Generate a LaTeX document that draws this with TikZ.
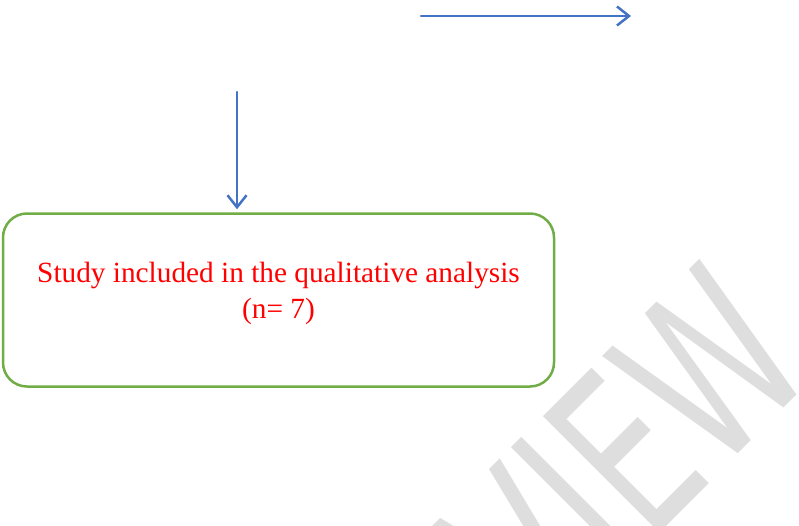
\documentclass[tikz,border=0pt]{standalone}
\usepackage{fontspec}
\setmainfont{Liberation Serif}
\newfontfamily\stampfont{DejaVu Sans}
\usepackage{tikz}
\usetikzlibrary{positioning, arrows.meta}
\definecolor{arrowblue}{RGB}{68, 114, 196}
\definecolor{boxgreen}{RGB}{112, 173, 71}
\definecolor{stampgray}{RGB}{222, 222, 222}

\begin{document}
\begin{tikzpicture}[
			x=1pt, y=-1pt,
			flowbox/.style={
				rectangle,
				rounded corners=24pt,
				minimum width=551pt,
				minimum height=173pt,
				draw=boxgreen,
				line width=2.5pt
			},
			flowtext/.style={
				text=red,
				align=center,
				inner sep=0pt,
				font=\fontsize{29.3}{36}\selectfont
			},
			flowarrow/.style={
				-{Straight Barb[length=12pt, width=19pt]},
				line width=2.5pt,
				line cap=round,
				arrowblue
			},
			stamp/.style={
				text=stampgray,
				inner sep=0pt,
				font=\stampfont\fontsize{226}{226}\selectfont
			}
			]
			
			\useasboundingbox (0,0) rectangle (799,525);
			
			\begin{scope}
				\clip (0,0) rectangle (799,525);
				\node[stamp, rotate=45, xscale=0.66, anchor=base east] (preview) at (820,372) {PREVIEW};
			\end{scope}
			
			\node[flowbox] (included) at (278.5,300) {};
			
			\node[flowtext] (includedtext) at ([yshift=7pt]included.center)
			{Study included in the qualitative analysis\\(n= 7)};
			
			\coordinate (topstart) at (421,16);
			\coordinate (topend) at (631,16);
			\coordinate (downstart) at (237,92);
			
			\draw[flowarrow] (topstart) -- (topend);
			
			\draw[flowarrow, shorten >=3pt] (downstart) -- (downstart |- included.north);
			
		\end{tikzpicture}
\end{document}
